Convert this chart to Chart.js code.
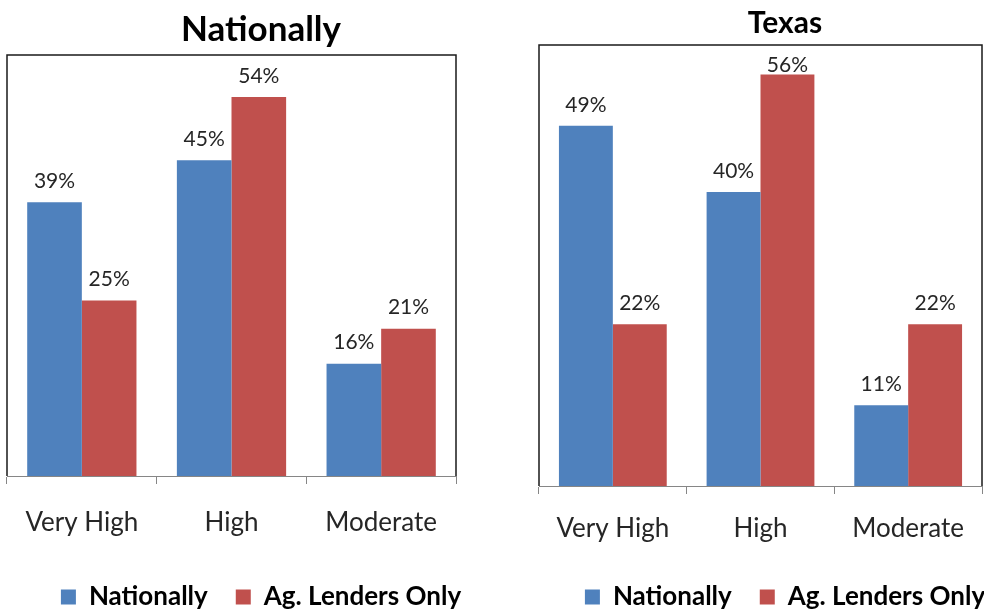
<!DOCTYPE html>
<html>
<head>
<meta charset="utf-8">
<script src="https://cdn.jsdelivr.net/npm/chart.js@4/dist/chart.umd.min.js"></script>
<style>
  html, body { margin: 0; padding: 0; background: #fff; overflow: hidden; width: 984px; height: 611px; }
  .panel { position: absolute; top: 0; }
</style>
</head>
<body>
<div class="panel" style="left:0px"><canvas id="natChart" width="515" height="620"></canvas></div>
<div class="panel" style="left:490px"><canvas id="texChart" width="541" height="620"></canvas></div>
<script>
const categories = ['Very High', 'High', 'Moderate'];
const seriesNames = ['Nationally', 'Ag. Lenders Only'];
const natNationally = [39, 45, 16];
const natAgLenders = [25, 54, 21];
const texNationally = [49, 40, 11];
const texAgLenders = [22, 56, 22];
const yMax = 60;

const BLUE = '#4f81bd';
const RED = '#c0504d';
const FONT = 'Lato, "Open Sans", sans-serif';

// value labels above each bar, kept inside the plot box like Excel does
const barLabels = {
  id: 'barLabels',
  afterDatasetsDraw(chart) {
    const ctx = chart.ctx;
    const top = chart.chartArea.top;
    ctx.save();
    ctx.font = '21px ' + FONT;
    ctx.fillStyle = '#262626';
    ctx.textAlign = 'center';
    ctx.textBaseline = 'middle';
    chart.data.datasets.forEach((ds, i) => {
      chart.getDatasetMeta(i).data.forEach((bar, j) => {
        const y = Math.max(bar.y - 21, top + 20);
        ctx.fillText(ds.data[j] + '%', bar.x, y);
      });
    });
    ctx.restore();
  }
};

// plot area frame (left, top, right); bottom is the x axis line
const plotFrame = {
  id: 'plotFrame',
  afterDraw(chart) {
    const a = chart.chartArea;
    const ctx = chart.ctx;
    ctx.save();
    ctx.strokeStyle = '#1a1a1a';
    ctx.lineWidth = 1.5;
    ctx.beginPath();
    ctx.moveTo(a.left, a.bottom);
    ctx.lineTo(a.left, a.top);
    ctx.lineTo(a.right, a.top);
    ctx.lineTo(a.right, a.bottom);
    ctx.stroke();
    ctx.restore();
  }
};

function makeChart(id, title, titleSize, titlePad, nat, ag, o) {
  return new Chart(document.getElementById(id), {
    type: 'bar',
    data: {
      labels: categories,
      datasets: [
        { label: seriesNames[0], data: nat, backgroundColor: BLUE, borderWidth: 0, categoryPercentage: 0.73, barPercentage: 1 },
        { label: seriesNames[1], data: ag, backgroundColor: RED, borderWidth: 0, categoryPercentage: 0.73, barPercentage: 1 }
      ]
    },
    options: {
      responsive: false,
      animation: false,
      layout: { padding: { left: o.padLeft, right: 0, top: 0, bottom: 0 } },
      scales: {
        x: {
          grid: { display: true, offset: true, drawOnChartArea: false, drawTicks: true, tickLength: 8, color: '#868686' },
          border: { display: true, color: '#868686', width: 1 },
          ticks: { color: '#262626', font: { family: FONT, size: 26 }, padding: o.tickPad, maxRotation: 0 },
          afterFit(s) { s.height = o.xHeight; }
        },
        y: { display: false, min: 0, max: yMax },
        spacer: {
          position: 'right',
          display: true,
          grid: { display: false },
          border: { display: false },
          ticks: { display: false },
          afterFit(s) { s.width = o.spacer; }
        }
      },
      plugins: {
        title: {
          display: true,
          text: title,
          color: '#000',
          font: { family: FONT, size: titleSize, weight: 'bold' },
          padding: titlePad
        },
        legend: {
          position: 'bottom',
          labels: {
            color: '#000',
            font: { family: FONT, size: 26, weight: 'bold' },
            boxWidth: 15,
            boxHeight: 15,
            padding: 28
          }
        },
        tooltip: { enabled: false }
      }
    },
    plugins: [barLabels, plotFrame]
  });
}

makeChart('natChart', 'Nationally', 35, { top: 9, bottom: 4 }, natNationally, natAgLenders,
  { padLeft: 7, tickPad: 23, xHeight: 80, spacer: 59 });
makeChart('texChart', 'Texas', 30, { top: 5, bottom: 4 }, texNationally, texAgLenders,
  { padLeft: 49, tickPad: 19, xHeight: 70, spacer: 49 });
</script>
</body>
</html>
